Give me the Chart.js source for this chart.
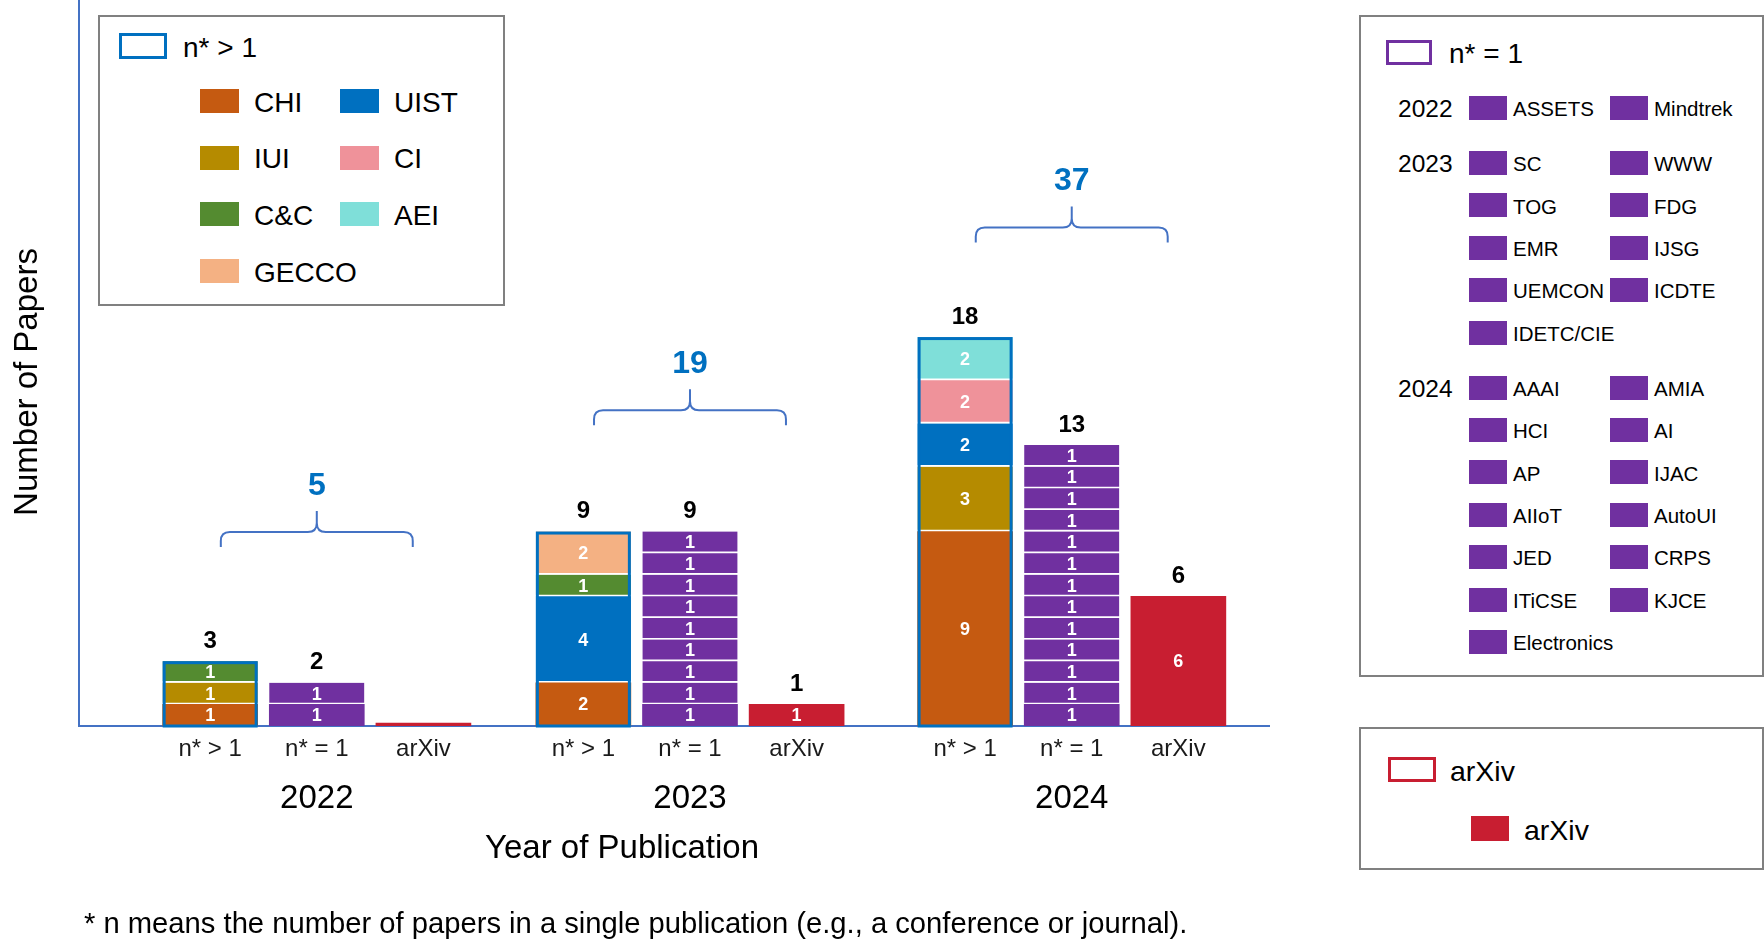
<!DOCTYPE html>
<html>
<head>
<meta charset="utf-8">
<script src="https://cdn.jsdelivr.net/npm/chart.js@4.4.1/dist/chart.umd.min.js"></script>
<style>
  html, body { margin: 0; padding: 0; background: #fff; }
  body { width: 1764px; height: 951px; position: relative; overflow: hidden;
         font-family: "Liberation Sans", Arial, sans-serif; color: #000; }
  #wrap { position: absolute; left: 0; top: 0; width: 1764px; height: 951px; }
  .box { position: absolute; border: 2px solid #808080; box-sizing: border-box; background: #fff; }
  .sw { position: absolute; box-sizing: border-box; }
  .tx { position: absolute; line-height: 1; white-space: nowrap; }
</style>
</head>
<body>
<div id="wrap"><canvas id="chart" width="1764" height="951"></canvas></div>
<div id="legends"></div>
<script>
const years = ['2022', '2023', '2024'];
const barLabels = ['n* > 1', 'n* = 1', 'arXiv'];

// n* > 1 : papers per venue and year (stacked bottom -> top in this order)
const chi   = [1, 2, 9];
const iui   = [1, 0, 3];
const uist  = [0, 4, 2];
const cc    = [1, 1, 0];
const gecco = [0, 2, 0];
const ci    = [0, 0, 2];
const aei   = [0, 0, 2];

// n* = 1 : one paper per venue
const single2022 = ['ASSETS', 'Mindtrek'];
const single2023 = ['SC', 'WWW', 'TOG', 'FDG', 'EMR', 'IJSG', 'UEMCON', 'ICDTE', 'IDETC/CIE'];
const single2024 = ['AAAI', 'AMIA', 'HCI', 'AI', 'AP', 'IJAC', 'AIIoT', 'AutoUI', 'JED', 'CRPS', 'ITiCSE', 'KJCE', 'Electronics'];

// arXiv preprints
const arxiv = [0, 1, 6];

const multi = [['CHI', chi], ['IUI', iui], ['UIST', uist], ['C&C', cc], ['GECCO', gecco], ['CI', ci], ['AEI', aei]];
const multiLegendOrder = ['CHI', 'UIST', 'IUI', 'CI', 'C&C', 'AEI', 'GECCO'];
const singles = [single2022, single2023, single2024];

const colors = {
  'CHI': '#C55A11', 'IUI': '#B58B00', 'UIST': '#0070C0', 'C&C': '#548B30',
  'GECCO': '#F4B183', 'CI': '#EF929A', 'AEI': '#7FDFD9'
};
const purple = '#7030A0';
const red = '#C81E31';
const axisBlue = '#4472C4';
const boxBlue = '#0070C0';
const FONT = '"Liberation Sans", Arial, sans-serif';

// layout of the bar slots on the x axis
const groupStart = [1.23, 4.73, 8.31];
const pos = (g, k) => groupStart[g] + k;

const multiTotals = years.map((_, g) => multi.reduce((s, m) => s + m[1][g], 0));

const datasets = [];
multi.forEach(([name, vals], i) => {
  datasets.push({
    label: name,
    data: vals.map((v, g) => ({ x: pos(g, 0), y: v })).filter(d => d.y > 0),
    backgroundColor: colors[name],
    borderColor: '#fff',
    borderWidth: i === 0 ? 0 : { top: 0, left: 0, right: 0, bottom: 2 },
    borderSkipped: false
  });
});
const maxSingles = Math.max(...singles.map(s => s.length));
for (let k = 0; k < maxSingles; k++) {
  datasets.push({
    label: 'n* = 1 #' + (k + 1),
    data: singles.map((list, g) => list.length > k ? { x: pos(g, 1), y: 1 } : null).filter(Boolean),
    backgroundColor: purple,
    borderColor: '#fff',
    borderWidth: k === 0 ? 0 : { top: 0, left: 0, right: 0, bottom: 2 },
    borderSkipped: false
  });
}
datasets.push({
  label: 'arXiv',
  data: arxiv.map((v, g) => ({ x: pos(g, 2), y: v })),
  backgroundColor: red,
  borderWidth: 0,
  minBarLength: 3
});

const tickPositions = [];
years.forEach((_, g) => barLabels.forEach((_, k) => tickPositions.push(pos(g, k))));

const annotate = {
  id: 'annotate',
  afterDatasetsDraw(chart) {
    const { ctx, scales: { x, y } } = chart;
    ctx.save();
    ctx.textAlign = 'center';
    ctx.textBaseline = 'middle';

    // value inside every segment
    ctx.fillStyle = '#fff';
    ctx.font = 'bold 18px ' + FONT;
    chart.data.datasets.forEach((ds, i) => {
      chart.getDatasetMeta(i).data.forEach((bar, j) => {
        const v = ds.data[j].y;
        if (v > 0) ctx.fillText(String(v), bar.x, (bar.y + bar.base) / 2 + 1);
      });
    });

    years.forEach((yr, g) => {
      const totals = [multiTotals[g], singles[g].length, arxiv[g]];
      const half = 95 / 2;

      // outline around the n* > 1 stack
      const cx0 = x.getPixelForValue(pos(g, 0));
      const top0 = y.getPixelForValue(totals[0]);
      const base = y.getPixelForValue(0);
      ctx.strokeStyle = boxBlue;
      ctx.lineWidth = 3;
      ctx.strokeRect(cx0 - half + 1.5, top0 + 1.5, 2 * half - 3, base - top0 - 1.5);

      // totals above bars
      ctx.fillStyle = '#000';
      ctx.font = 'bold 24px ' + FONT;
      totals.forEach((t, k) => {
        if (t > 0) ctx.fillText(String(t), x.getPixelForValue(pos(g, k)), y.getPixelForValue(t) - 20);
      });

      // brace + group total
      const cx = x.getPixelForValue(pos(g, 1));
      const L = x.getPixelForValue(pos(g, 1) - 0.9);
      const R = x.getPixelForValue(pos(g, 1) + 0.9);
      const topMax = y.getPixelForValue(Math.max(...totals));
      const bot = topMax - 118 + 0.06 * (base - topMax);
      const h = bot - 15;
      const tip = h - 21;
      const r = 9;
      ctx.strokeStyle = axisBlue;
      ctx.lineWidth = 2;
      ctx.beginPath();
      ctx.moveTo(L, bot);
      ctx.lineTo(L, h + r);
      ctx.quadraticCurveTo(L, h, L + r, h);
      ctx.lineTo(cx - r, h);
      ctx.quadraticCurveTo(cx, h, cx, h - r);
      ctx.lineTo(cx, tip);
      ctx.moveTo(cx, h - r);
      ctx.quadraticCurveTo(cx, h, cx + r, h);
      ctx.lineTo(R - r, h);
      ctx.quadraticCurveTo(R, h, R, h + r);
      ctx.lineTo(R, bot);
      ctx.stroke();

      const sum = totals.reduce((a, b) => a + b, 0);
      ctx.fillStyle = boxBlue;
      ctx.font = 'bold 32px ' + FONT;
      ctx.fillText(String(sum), cx, tip - 25);

      // year label
      ctx.fillStyle = '#000';
      ctx.font = '33px ' + FONT;
      ctx.fillText(yr, cx, 799);
    });

    // axis titles and note
    ctx.fillStyle = '#000';
    ctx.font = '33px ' + FONT;
    ctx.fillText('Year of Publication', 622, 849);
    ctx.save();
    ctx.translate(28, 382);
    ctx.rotate(-Math.PI / 2);
    ctx.fillText('Number of Papers', 0, 0);
    ctx.restore();
    ctx.textAlign = 'left';
    ctx.font = '29.2px ' + FONT;
    ctx.fillText('* n means the number of papers in a single publication (e.g., a conference or journal).', 84, 925);
    ctx.restore();
  }
};

Chart.defaults.font.family = FONT;
new Chart(document.getElementById('chart'), {
  type: 'bar',
  data: { datasets: datasets },
  options: {
    responsive: false,
    animation: false,
    layout: { padding: { left: 79, right: 495, top: 0, bottom: 0 } },
    datasets: { bar: { barThickness: 95 } },
    plugins: { legend: { display: false }, tooltip: { enabled: false } },
    scales: {
      x: {
        type: 'linear',
        offset: false,
        stacked: true,
        min: 0,
        max: 11.16,
        grid: { display: false, drawTicks: false, offset: false },
        border: { display: true, color: axisBlue, width: 2 },
        afterBuildTicks: scale => { scale.ticks = tickPositions.map(v => ({ value: v })); },
        afterFit: scale => { scale.height = 225; },
        ticks: {
          autoSkip: false,
          maxRotation: 0,
          padding: 9,
          color: '#1a1a1a',
          font: { size: 24 },
          callback: (value, index) => barLabels[index % 3]
        }
      },
      y: {
        stacked: true,
        min: 0,
        max: 33.6,
        grid: { display: false, drawTicks: false },
        border: { display: true, color: axisBlue, width: 2 },
        ticks: { display: false }
      }
    }
  },
  plugins: [annotate]
});

// ---- legends (HTML) ----
const host = document.getElementById('legends');
function el(cls, css, text) {
  const d = document.createElement('div');
  d.className = cls;
  Object.assign(d.style, css);
  if (text !== undefined) d.textContent = text;
  host.appendChild(d);
  return d;
}
function box(l, t, w, h) { el('box', { left: l + 'px', top: t + 'px', width: w + 'px', height: h + 'px' }); }
function swatch(l, t, w, h, fill, outline) {
  el('sw', {
    left: l + 'px', top: t + 'px', width: w + 'px', height: h + 'px',
    background: fill || '#fff', border: outline ? '3px solid ' + outline : 'none'
  });
}
function text(l, cy, size, s) {
  el('tx', { left: l + 'px', top: (cy - size * 0.5 + 1.5) + 'px', fontSize: size + 'px' }, s);
}

// n* > 1 legend
box(98, 15, 407, 291);
swatch(119, 33, 48, 26, '#fff', boxBlue);
text(183, 46, 28, 'n* > 1');
multiLegendOrder.forEach((name, i) => {
  const col = i % 2, row = Math.floor(i / 2);
  const cy = 101 + row * 56.7;
  swatch(200 + col * 140, cy - 12, 39, 24, colors[name]);
  text(254 + col * 140, cy, 28, name);
});

// n* = 1 legend
box(1359, 15, 405, 662);
swatch(1386, 40, 46, 25, '#fff', purple);
text(1449, 52, 28, 'n* = 1');
let rowY = 108;
singles.forEach((list, g) => {
  text(1398, rowY, 24.5, years[g]);
  list.forEach((name, i) => {
    const col = i % 2, row = Math.floor(i / 2);
    const cy = rowY + row * 42.4;
    swatch(1469 + col * 141, cy - 12, 38, 24, purple);
    text(1513 + col * 141, cy, 20.5, name);
  });
  rowY += (Math.ceil(list.length / 2) - 1) * 42.4 + 55;
});

// arXiv legend
box(1359, 727, 405, 143);
swatch(1388, 757, 48, 25, '#fff', red);
text(1450, 770, 28.5, 'arXiv');
swatch(1471, 816, 38, 25, red);
text(1524, 829, 28.5, 'arXiv');
</script>
</body>
</html>
